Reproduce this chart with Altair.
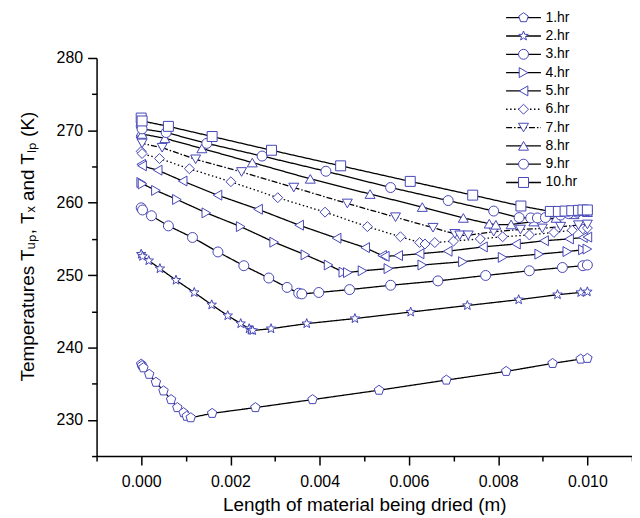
import altair as alt
import pandas as pd

# ---- data (x in metres, T in kelvin) ----
series_names = ["1.hr", "2.hr", "3.hr", "4.hr", "5.hr", "6.hr", "7.hr", "8.hr", "9.hr", "10.hr"]
line_keys = ["L" + s for s in series_names]

x1 = [0.0, 0.00002, 0.00005, 0.00018, 0.00033, 0.00050, 0.00067, 0.00081, 0.00095, 0.00102, 0.00111,
      0.00159, 0.00256, 0.00384, 0.00533, 0.00684, 0.00818, 0.00922, 0.00985, 0.0100]
t1 = [237.7, 237.5, 237.2, 236.3, 235.2, 234.0, 232.8, 231.7, 231.0, 230.5, 230.3,
      230.9, 231.7, 232.8, 234.1, 235.5, 236.7, 237.8, 238.4, 238.5]

x2 = [0.0, 0.00003, 0.00017, 0.00042, 0.00078, 0.00119, 0.00158, 0.00194, 0.00223, 0.00242, 0.00246,
      0.00250, 0.00291, 0.00371, 0.00479, 0.00604, 0.00731, 0.00846, 0.00933, 0.00985, 0.0100]
t2 = [252.9, 252.6, 252.0, 250.9, 249.3, 247.6, 245.9, 244.4, 243.3, 242.6, 242.4,
      242.35, 242.6, 243.3, 244.0, 244.9, 245.8, 246.6, 247.3, 247.6, 247.7]

x3 = [0.0, 0.00003, 0.00023, 0.00061, 0.00115, 0.00172, 0.00230, 0.00286, 0.00327, 0.00353, 0.00360,
      0.00398, 0.00467, 0.00559, 0.00665, 0.00772, 0.00870, 0.00944, 0.00990, 0.0100]
t3 = [259.3, 259.0, 258.2, 256.8, 255.2, 253.2, 251.3, 249.6, 248.3, 247.5, 247.4,
      247.6, 248.0, 248.6, 249.2, 249.95, 250.6, 251.05, 251.3, 251.4]

x4 = [0.0, 0.00003, 0.00033, 0.00080, 0.00146, 0.00223, 0.00298, 0.00368, 0.00420, 0.00453, 0.00463,
      0.00496, 0.00554, 0.00630, 0.00721, 0.00810, 0.00892, 0.00955, 0.00990, 0.0100]
t4 = [262.8, 262.6, 261.7, 260.45, 258.6, 256.7, 254.55, 252.8, 251.4, 250.4, 250.35,
      250.6, 250.9, 251.4, 251.85, 252.45, 252.9, 253.25, 253.5, 253.6]

x5 = [0.0, 0.00002, 0.00037, 0.00093, 0.00171, 0.00262, 0.00354, 0.00438, 0.00502, 0.00540, 0.00546,
      0.00576, 0.00624, 0.00687, 0.00766, 0.00840, 0.00903, 0.00959, 0.00990, 0.0100]
t5 = [265.3, 265.1, 264.5, 263.0, 261.05, 259.1, 256.9, 255.1, 253.8, 252.7, 252.6,
      252.7, 252.95, 253.3, 253.9, 254.3, 254.75, 255.0, 255.2, 255.25]

x6 = [0.0, 0.00002, 0.00041, 0.00108, 0.00201, 0.00306, 0.00412, 0.00507, 0.00581, 0.00624, 0.00636,
      0.00658, 0.00700, 0.00760, 0.00810, 0.00870, 0.00925, 0.00966, 0.00990, 0.0100]
t6 = [267.1, 266.8, 266.1, 264.7, 262.9, 260.7, 258.7, 256.7, 255.3, 254.5, 254.3,
      254.5, 254.7, 255.0, 255.3, 255.55, 255.9, 256.2, 256.4, 256.5]

x7 = [0.0, 0.00002, 0.00047, 0.00122, 0.00225, 0.00342, 0.00462, 0.00570, 0.00654, 0.00703, 0.00714,
      0.00733, 0.00790, 0.00850, 0.00899, 0.00940, 0.00980, 0.0100]
t7 = [268.5, 268.2, 267.6, 266.0, 264.25, 262.1, 259.9, 258.0, 256.55, 255.7, 255.5,
      255.5, 256.0, 256.3, 256.45, 256.7, 256.9, 257.0]

x8 = [0.0, 0.00002, 0.00053, 0.00136, 0.00249, 0.00379, 0.00513, 0.00630, 0.00722, 0.00780, 0.00795,
      0.00829, 0.00880, 0.00930, 0.00970, 0.0100]
t8 = [269.8, 269.5, 268.9, 267.5, 265.55, 263.3, 261.2, 259.4, 257.9, 257.1, 256.95,
      257.0, 257.4, 257.9, 258.4, 258.7]

x9 = [0.0, 0.00002, 0.00056, 0.00147, 0.00271, 0.00414, 0.00559, 0.00688, 0.00790, 0.00847, 0.00873,
      0.00888, 0.00906, 0.00940, 0.00958, 0.00977, 0.0100]
t9 = [270.6, 270.2, 269.7, 268.2, 266.45, 264.35, 262.1, 260.3, 258.85, 257.95, 257.9,
      257.9, 257.95, 258.3, 258.5, 258.7, 258.9]

x10 = [0.0, 0.00002, 0.00061, 0.00159, 0.00292, 0.00447, 0.00603, 0.00743, 0.00851, 0.00917, 0.00935,
       0.00950, 0.00965, 0.00980, 0.00990, 0.0100]
t10 = [271.7, 271.3, 270.55, 269.15, 267.25, 265.1, 262.95, 261.05, 259.55, 258.8, 258.8,
       258.85, 258.9, 258.95, 259.0, 259.0]

xs = [x1, x2, x3, x4, x5, x6, x7, x8, x9, x10]
ts = [t1, t2, t3, t4, t5, t6, t7, t8, t9, t10]

x_major = [0.000, 0.002, 0.004, 0.006, 0.008, 0.010]
x_minor = [-0.001, 0.001, 0.003, 0.005, 0.007, 0.009, 0.011]
y_major = [230, 240, 250, 260, 270, 280]
y_minor = [225, 235, 245, 255, 265, 275]

rows = []
for name, key, xv, tv in zip(series_names, line_keys, xs, ts):
    for a, b in zip(xv, tv):
        rows.append({"hr": name, "hr_line": key, "x": a, "T": b})
df = pd.DataFrame(rows)

# ---- styles ----
pentagon = "M0,-1L0.951,-0.309L0.588,0.809L-0.588,0.809L-0.951,-0.309Z"
star = ("M0,-1L0.247,-0.34L0.951,-0.309L0.399,0.13L0.588,0.809L0,0.42"
        "L-0.588,0.809L-0.399,0.13L-0.951,-0.309L-0.247,-0.34Z")
shapes = [pentagon, star, "circle", "triangle-right", "triangle-left", "diamond",
          "triangle-down", "triangle-up", "circle", "square"]
dashes = [[1, 0], [1, 0], [1, 0], [1, 0], [1, 0], [1.5, 2.5], [6, 2, 1.5, 2], [1, 0], [1, 0], [1, 0]]
MARK = "#4646b8"
FONT = "Liberation Sans"

xscale = alt.Scale(domain=[-0.001, 0.011], nice=False, zero=False)
yscale = alt.Scale(domain=[225, 280], nice=False, zero=False)

y_title = "Temperatures T\u1d64\u209a, T\u2093 and T\u2097\u209a (K)"

LEG_X = 422
LEG_Y = -47.5


def shape_legend():
    return alt.Legend(title=None, orient="none", legendX=LEG_X, legendY=LEG_Y,
                      symbolSize=100, symbolStrokeColor=MARK, symbolFillColor="white",
                      symbolStrokeWidth=1, symbolOpacity=1, labelFontSize=14, labelFont=FONT,
                      labelColor="black", labelOffset=15, rowPadding=4.4, zindex=2)


base = alt.Chart(df)

lines = base.mark_line(color="black", strokeWidth=1.3).encode(
    x=alt.X("x:Q", scale=xscale,
            axis=alt.Axis(values=x_major, format=".3f", title="Length of material being dried (m)",
                          orient="bottom", tickSize=9, labelPadding=9, titlePadding=6)),
    y=alt.Y("T:Q", scale=yscale,
            axis=alt.Axis(values=y_major, title=y_title, orient="left", tickSize=9, labelPadding=5,
                          titleX=-69, titleY=189, titleAngle=270, titleBaseline="middle",
                          titleAlign="center")),
    strokeDash=alt.StrokeDash(
        "hr_line:N",
        scale=alt.Scale(domain=line_keys, range=dashes),
        legend=alt.Legend(title=None, orient="none", legendX=LEG_X, legendY=LEG_Y,
                          symbolType="M-3.5,0H3.5", symbolSize=100, symbolStrokeColor="black",
                          symbolStrokeWidth=1.3, labelExpr="' '", labelFontSize=14, labelFont=FONT,
                          labelOffset=15, rowPadding=4.4, zindex=1),
    ),
)

points = base.mark_point(filled=False, fill="white", strokeWidth=1, size=100, opacity=1).encode(
    x=alt.X("x:Q", scale=xscale, axis=None),
    y=alt.Y("T:Q", scale=yscale, axis=None),
    shape=alt.Shape("hr:N", scale=alt.Scale(domain=series_names, range=shapes), legend=shape_legend()),
    stroke=alt.Stroke("hr:N", scale=alt.Scale(domain=series_names, range=[MARK] * len(series_names)),
                      legend=shape_legend()),
)

minor = base.mark_point(opacity=0).encode(
    x=alt.X("x:Q", scale=xscale,
            axis=alt.Axis(values=x_minor, labels=False, domain=False, title=None, orient="bottom",
                          tickSize=5)),
    y=alt.Y("T:Q", scale=yscale,
            axis=alt.Axis(values=y_minor, labels=False, domain=False, title=None, orient="left",
                          tickSize=5)),
)

chart = (
    alt.layer(lines, points, minor)
    .resolve_axis(x="independent", y="independent")
    .properties(width=538, height=400, autosize="none",
                padding={"left": 89, "top": 49, "right": 0, "bottom": 58})
    .configure_view(stroke=None)
    .configure_legend(padding=0)
    .configure_axis(grid=False, domainColor="black", domainWidth=1.5, tickColor="black",
                    tickWidth=1.5, labelColor="black", titleColor="black", labelFont=FONT,
                    titleFont=FONT, labelFontSize=16, titleFontSize=19, titleFontWeight="normal")
)

chart.save("out.html", embed_options={"renderer": "svg", "actions": False})
